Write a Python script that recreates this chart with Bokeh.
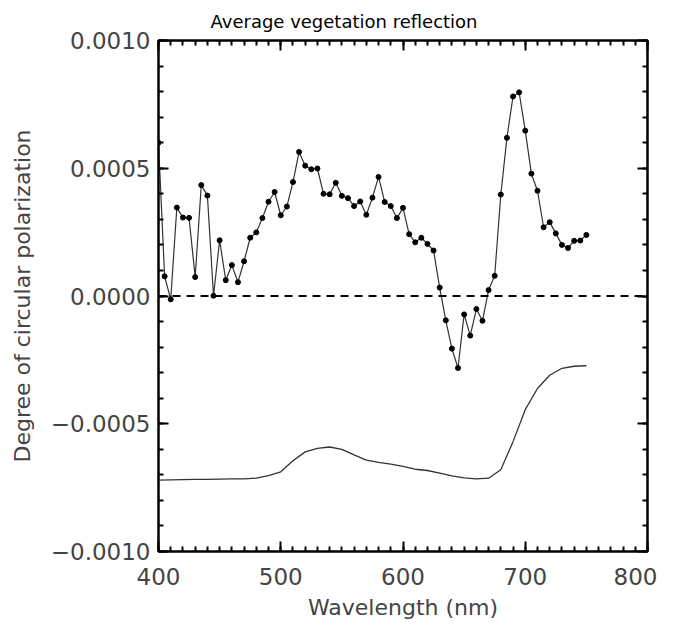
from bokeh.plotting import figure
from bokeh.models import (LinearAxis, FixedTicker, CustomJSTickFormatter, Range1d,
                          Title, Span)
from bokeh.embed import file_html
from bokeh.resources import INLINE

# Degree of circular polarization (dotted curve)
wavelength = [400, 405, 410, 415, 420, 425, 430, 435, 440, 445, 450, 455, 460, 465, 470,
              475, 480, 485, 490, 495, 500, 505, 510, 515, 520, 525, 530, 535, 540, 545,
              550, 555, 560, 565, 570, 575, 580, 585, 590, 595, 600, 605, 610, 615, 620,
              625, 630, 635, 640, 645, 650, 655, 660, 665, 670, 675, 680, 685, 690, 695,
              700, 705, 710, 715, 720, 725, 730, 735, 740, 745, 750]
polarization = [0.000600, 0.000077, -0.000013, 0.000346, 0.000307, 0.000306, 0.000074,
                0.000434, 0.000393, 0.000001, 0.000218, 0.000062, 0.000121, 0.000054,
                0.000136, 0.000228, 0.000249, 0.000305, 0.000369, 0.000407, 0.000316,
                0.000350, 0.000446, 0.000564, 0.000510, 0.000496, 0.000499, 0.000400,
                0.000398, 0.000443, 0.000392, 0.000383, 0.000352, 0.000370, 0.000318,
                0.000385, 0.000466, 0.000368, 0.000352, 0.000305, 0.000345, 0.000242,
                0.000210, 0.000228, 0.000204, 0.000178, 0.000033, -0.000095, -0.000206,
                -0.000282, -0.000072, -0.000155, -0.000051, -0.000097, 0.000023, 0.000079,
                0.000397, 0.000619, 0.000781, 0.000797, 0.000647, 0.000479, 0.000412,
                0.000269, 0.000289, 0.000245, 0.000200, 0.000188, 0.000216, 0.000217,
                0.000239]

# Scaled reflectance spectrum (smooth curve)
refl_wavelength = [400, 410, 420, 430, 440, 450, 460, 470, 480, 490, 500, 510, 520, 530,
                   540, 550, 560, 570, 580, 590, 600, 610, 620, 630, 640, 650, 660, 670,
                   680, 690, 700, 710, 720, 730, 740, 750]
reflectance = [-0.000721, -0.000720, -0.000719, -0.000718, -0.000718, -0.000717, -0.000716,
               -0.000716, -0.000713, -0.000703, -0.000688, -0.000645, -0.000610, -0.000596,
               -0.000591, -0.000600, -0.000622, -0.000642, -0.000651, -0.000658, -0.000667,
               -0.000678, -0.000683, -0.000693, -0.000704, -0.000712, -0.000716, -0.000713,
               -0.000680, -0.000570, -0.000445, -0.000362, -0.000310, -0.000283, -0.000275,
               -0.000273]

x_ticks = [400, 500, 600, 700, 800]
x_tick_labels = ["400", "500", "600", "700", "800"]
y_ticks = [-0.0010, -0.0005, 0.0, 0.0005, 0.0010]
y_tick_labels = ["\u22120.0010", "\u22120.0005", "0.0000", "0.0005", "0.0010"]
x_minor = [400 + 10 * i for i in range(41)]
y_minor = [round(-0.0010 + 0.0001 * i, 4) for i in range(21)]

FONT = "DejaVu Sans"

p = figure(width=657, height=625, output_backend="svg", toolbar_location=None,
           x_range=Range1d(400, 800), y_range=Range1d(-0.0010, 0.0010),
           x_axis_type=None, y_axis_type=None, title=None,
           min_border_left=158, min_border_right=10, min_border_top=40,
           min_border_bottom=74)
p.grid.visible = False
p.outline_line_color = "black"
p.outline_line_width = 2
p.background_fill_color = "white"
p.border_fill_color = "white"

fmt_js = """
let best = 0; let d = Infinity;
for (let i = 0; i < tv.length; i++) {
  const dd = Math.abs(tv[i] - tick);
  if (dd < d) { d = dd; best = i; }
}
return lbl[best];
"""
xfmt = CustomJSTickFormatter(args=dict(tv=x_ticks, lbl=x_tick_labels), code=fmt_js)
yfmt = CustomJSTickFormatter(args=dict(tv=y_ticks, lbl=y_tick_labels), code=fmt_js)
blank = CustomJSTickFormatter(code="return '';")


def style(ax, show_labels):
    ax.axis_line_width = 2
    ax.major_tick_line_width = 2
    ax.minor_tick_line_width = 2
    ax.major_tick_in = 10
    ax.major_tick_out = 0
    ax.minor_tick_in = 5
    ax.minor_tick_out = 0
    if not show_labels:
        ax.major_label_text_font_size = "1px"
        ax.major_label_standoff = 0


xb = LinearAxis(ticker=FixedTicker(ticks=x_ticks, minor_ticks=x_minor), formatter=xfmt,
                axis_label="Wavelength (nm)")
style(xb, True)
xb.major_label_text_font = FONT
xb.major_label_text_font_size = "23px"
xb.major_label_standoff = 16
xb.axis_label_text_font = FONT
xb.axis_label_text_font_size = "22px"
xb.axis_label_text_font_style = "normal"
xb.axis_label_standoff = 7
p.add_layout(xb, "below")

yl = LinearAxis(ticker=FixedTicker(ticks=y_ticks, minor_ticks=y_minor), formatter=yfmt,
                axis_label="Degree of circular polarization")
style(yl, True)
yl.major_label_text_font = FONT
yl.major_label_text_font_size = "23px"
yl.major_label_standoff = 8
yl.axis_label_text_font = FONT
yl.axis_label_text_font_size = "22px"
yl.axis_label_text_font_style = "normal"
yl.axis_label_standoff = 13
p.add_layout(yl, "left")

xt = LinearAxis(ticker=FixedTicker(ticks=x_ticks, minor_ticks=x_minor), formatter=blank)
style(xt, False)
p.add_layout(xt, "above")

yr = LinearAxis(ticker=FixedTicker(ticks=y_ticks, minor_ticks=y_minor), formatter=blank)
style(yr, False)
p.add_layout(yr, "right")

p.add_layout(Title(text="Average vegetation reflection", align="left", offset=52,
                   standoff=17, text_font=FONT, text_font_size="18px",
                   text_font_style="normal", text_color="black"), "above")

p.add_layout(Span(location=0, dimension="width", line_color="black", line_width=2,
                  line_dash="8 6"))

p.line(refl_wavelength, reflectance, line_color="#333333", line_width=1.3)
p.line(wavelength, polarization, line_color="#333333", line_width=1.2)
p.scatter(wavelength, polarization, size=5, fill_color="black", line_color="black")

open("out.html", "w").write(file_html(p, INLINE))
